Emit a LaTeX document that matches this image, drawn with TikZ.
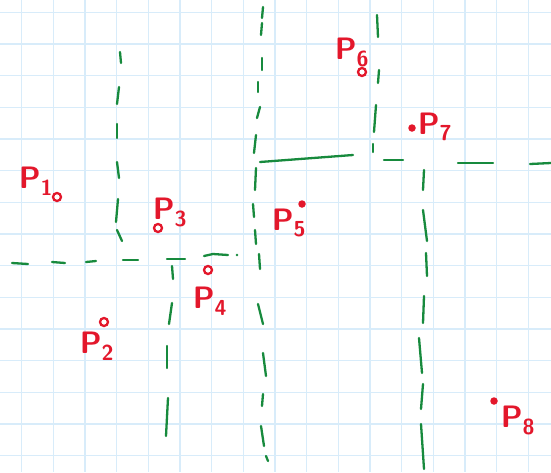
\documentclass[tikz,border=0pt]{standalone}
\definecolor{gridblue}{HTML}{D8ECFA}
\definecolor{penred}{HTML}{E3172B}
\definecolor{pengreen}{HTML}{178A3D}
\tikzset{
  gridline/.style={gridblue, line width=1.4pt},
  greenline/.style={pengreen, line width=2.3pt, line cap=round},
  ringpt/.style={circle, draw=penred, fill=white, line width=2.3pt, inner sep=0pt, minimum size=8pt},
  dotpt/.style={circle, fill=penred, inner sep=0pt, minimum size=7.5pt},
  ptlabel/.style={penred, inner sep=0pt, font=\sffamily\bfseries\fontsize{31}{31}\selectfont}
}
\begin{document}
\begin{tikzpicture}[x=1pt, y=-1pt]
  % paper
  \useasboundingbox (0,0) rectangle (551,472);
  \fill[white] (0,0) rectangle (551,472);

  % grid
  \foreach \i in {0,...,16}
    \draw[gridline] ({21.7+31.67*\i},0) -- ({21.7+31.67*\i},472);
  \foreach \j in {0,...,14}
    \draw[gridline] (0,{12.3+31.67*\j}) -- (551,{12.3+31.67*\j});

  % left upper vertical (dashed)
  \foreach \xa/\ya/\xb/\yb in {120/52/121/63, 119/87/117/104, 117/124/117/138,
      117/162/119/178, 118/199/116/222, 117/230/122/241}
    \draw[greenline] (\xa,\ya) -- (\xb,\yb);

  % middle vertical (dashed)
  \foreach \xa/\ya/\xb/\yb in {263/7/262/18, 262/23/261/35, 262/58/262/70,
      258/82/258/92, 260/107/257/118, 256/135/254/153, 256/168/255/190,
      253/204/254/217, 255/230/256/244, 259/254/260/269, 258/304/263/324,
      263/353/266/376, 263/394/262/406, 261/426/264/446, 266/456/268/461}
    \draw[greenline] (\xa,\ya) -- (\xb,\yb);

  % left horizontal (dashed)
  \foreach \xa/\ya/\xb/\yb in {12/263/28/264, 52/262/65/263, 86/262/96/261,
      123/260/138/260, 167/259/185/259}
    \draw[greenline] (\xa,\ya) -- (\xb,\yb);
  \draw[greenline] (204,256) -- (213,254) -- (228,255);
  \fill[pengreen] (237,255) circle (1.3pt);

  % lower vertical (dashed)
  \foreach \xa/\ya/\xb/\yb in {172/266/173/279, 172/303/169/324,
      167/346/167/368, 168/398/166/436}
    \draw[greenline] (\xa,\ya) -- (\xb,\yb);

  % solid piece
  \draw[greenline] (260,162) -- (353,155);

  % right upper vertical (dashed)
  \foreach \xa/\ya/\xb/\yb in {377/15/378/37, 379/70/378/83, 376/105/374/132,
      373/144/373/152}
    \draw[greenline] (\xa,\ya) -- (\xb,\yb);

  % right horizontal (dashed)
  \foreach \xa/\ya/\xb/\yb in {384/160/403/160, 458/163/493/163, 530/164/551/163}
    \draw[greenline] (\xa,\ya) -- (\xb,\yb);

  % right lower vertical (dashed)
  \foreach \xa/\ya/\xb/\yb in {424/170/423/190, 423/210/427/241, 426/253/427/276,
      424/296/423/323, 419/338/422/373, 423/384/421/409, 421/424/424/469}
    \draw[greenline] (\xa,\ya) -- (\xb,\yb);

  % points
  \node[ringpt] (p1) at (57,197) {};
  \node[ringpt] (p2) at (104,322) {};
  \node[ringpt] (p3) at (158,228) {};
  \node[ringpt] (p4) at (208,270) {};
  \node[dotpt]  (p5) at (302,204) {};
  \node[ringpt] (p6) at (362,72) {};
  \node[dotpt]  (p7) at (412,128) {};
  \node[dotpt]  (p8) at (494,401) {};

  % labels
  \node[ptlabel] (p1lbl) at (36,181) {P\textsubscript{1}};
  \node[ptlabel] (p2lbl) at (97,346) {P\textsubscript{2}};
  \node[ptlabel] (p3lbl) at (170,212) {P\textsubscript{3}};
  \node[ptlabel] (p4lbl) at (210,301) {P\textsubscript{4}};
  \node[ptlabel] (p5lbl) at (289,223) {P\textsubscript{5}};
  \node[ptlabel] (p6lbl) at (352,52) {P\textsubscript{6}};
  \node[ptlabel] (p7lbl) at (435,127) {P\textsubscript{7}};
  \node[ptlabel] (p8lbl) at (518,420) {P\textsubscript{8}};
\end{tikzpicture}
\end{document}
